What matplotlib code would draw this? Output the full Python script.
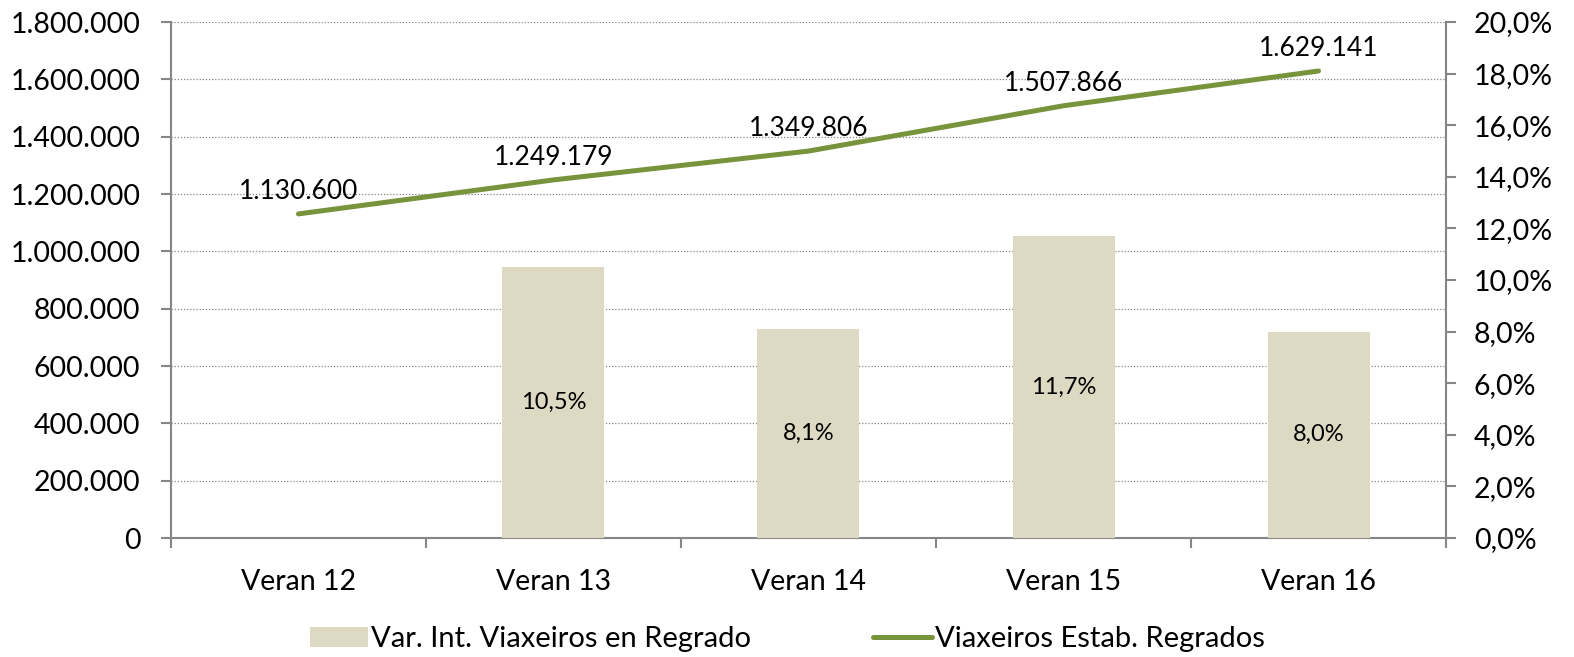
import matplotlib.pyplot as plt
import numpy as np

# datos
categorias = ["Veran 12", "Veran 13", "Veran 14", "Veran 15", "Veran 16"]
viaxeiros = [1130600, 1249179, 1349806, 1507866, 1629141]
variacion = [0.0, 10.5, 8.1, 11.7, 8.0]

col_barra = "#DDD9C3"
col_linea = "#77933C"
col_eixo = "#868686"

plt.rcParams['font.family'] = ['Lato', 'DejaVu Sans']

fig = plt.figure(figsize=(15.74, 6.57), dpi=100)
ax1 = fig.add_axes([0.1086, 0.1811, 0.8101, 0.7854])
ax2 = ax1.twinx()

x = np.arange(len(categorias))

# barras (eixo dereito)
barras = ax2.bar(x[1:], variacion[1:], width=0.40, color=col_barra, zorder=2,
                 label="Var. Int. Viaxeiros en Regrado")
for xi, v in zip(x[1:], variacion[1:]):
    ax2.text(xi, v / 2, f"{v:.1f}%".replace('.', ','), ha='center', va='center',
             fontsize=17)

# linea (eixo esquerdo, debuxada enriba das barras)
linea, = ax2.plot(x, viaxeiros, color=col_linea, lw=3.6, solid_capstyle='round',
                  transform=ax1.transData, zorder=3, label="Viaxeiros Estab. Regrados")
for xi, v in zip(x, viaxeiros):
    ax2.annotate(f"{v:,.0f}".replace(',', '.'), (xi, v), xycoords=ax1.transData,
                 xytext=(0, 7), textcoords='offset points', ha='center', va='bottom',
                 fontsize=19, zorder=4)

ax1.set_xlim(-0.5, len(categorias) - 0.5)
ax1.set_ylim(0, 1800000)
ax2.set_ylim(0, 20)

ax1.set_yticks(np.arange(0, 1800001, 200000))
ax1.set_yticklabels([f"{v:,.0f}".replace(',', '.') for v in np.arange(0, 1800001, 200000)])
ax2.set_yticks(np.arange(0, 20.1, 2))
ax2.set_yticklabels([f"{v:.1f}%".replace('.', ',') for v in np.arange(0, 20.1, 2)])

ax1.set_xticks(x)
ax1.set_xticklabels(categorias)
ax1.set_xticks(np.arange(-0.5, len(categorias)), minor=True)

ax1.grid(axis='y', linestyle=(0, (1, 1.5)), color=col_eixo, lw=0.9, zorder=0)
ax1.set_axisbelow(True)

for s in ['top', 'right']:
    ax1.spines[s].set_visible(False)
for s in ['top', 'left', 'bottom']:
    ax2.spines[s].set_visible(False)
ax1.spines['left'].set_color(col_eixo)
ax1.spines['bottom'].set_color(col_eixo)
ax2.spines['right'].set_color(col_eixo)
for a in [ax1, ax2]:
    for s in a.spines.values():
        s.set_linewidth(1.5)

ax1.tick_params(axis='y', length=7, width=1.5, color=col_eixo, labelsize=20.5, pad=15)
ax2.tick_params(axis='y', length=7, width=1.5, color=col_eixo, labelsize=20.5, pad=13)
ax1.tick_params(axis='x', which='major', length=0, labelsize=20.5, pad=22)
ax1.tick_params(axis='x', which='minor', length=7, width=1.5, color=col_eixo)

fig.legend(handles=[barras, linea], loc='center', bbox_to_anchor=(0.5, 0.027),
           ncol=2, frameon=False, fontsize=21, handlelength=2.0, handletextpad=0.1,
           columnspacing=4.2)

fig.savefig("out.png", dpi=100)
